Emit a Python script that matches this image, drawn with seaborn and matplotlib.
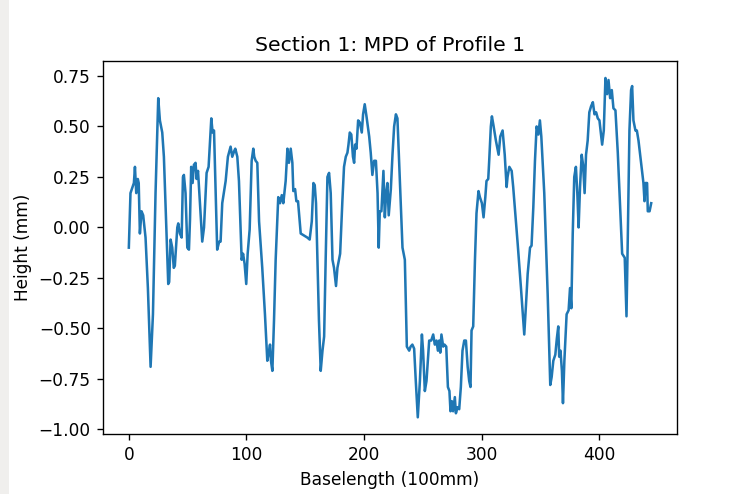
import matplotlib
matplotlib.use("Agg")
import matplotlib.pyplot as plt
from matplotlib.patches import Rectangle
import seaborn as sns
import pandas as pd

# ---- data ----
baselength = [
    0, 1.4, 4.3, 5.2, 6.3, 7.6, 8.4, 9.4, 10.8, 12.2, 14.2, 16.2, 18.5, 20.5, 22.7, 25.0,
    26.4, 28.4, 29.8, 33.5, 34.3, 35.5, 36.9, 38.2, 39.1, 41.2, 42.0, 43.4, 44.9, 46.0,
    46.8, 48.2, 49.7, 51.1, 52.0, 53.0, 54.2, 55.3, 56.7, 57.6, 58.8, 60.9, 62.4, 63.9,
    66.1, 67.8, 70.1, 71.2, 72.4, 75.1, 76.8, 78.0, 79.4, 82.3, 84.2, 86.5, 87.9, 89.7,
    90.5, 92.2, 93.6, 95.9, 97.1, 98.4, 99.8, 101.0, 102.7, 104.4, 105.8, 106.6, 107.8,
    109.2, 110.7, 113.4, 115.7, 117.7, 119.2, 120.0, 120.8, 122.0, 123.4, 124.8, 127.0,
    128.5, 130.0, 131.3, 133.3, 134.8, 136.1, 137.6, 139.0, 139.8, 141.3, 142.4, 143.8,
    146.1, 148.9, 151.7, 153.7, 155.5, 156.9, 158.0, 159.1, 160.3, 161.6, 163.1, 164.6,
    166.0, 167.3, 168.8, 170.2, 171.6, 173.1, 174.4, 176.1, 177.3, 179.6, 181.5, 182.9,
    184.4, 185.8, 186.7, 187.8, 189.1, 190.5, 191.5, 192.3, 193.5, 194.9, 196.3, 198.0,
    199.1, 200.5, 202.0, 204.3, 205.6, 207.0, 208.5, 210.0, 211.4, 212.4, 213.3, 214.7,
    216.4, 217.6, 218.7, 219.8, 220.9, 222.7, 224.1, 225.5, 227.0, 228.3, 229.7, 232.6,
    234.6, 236.3, 238.3, 239.5, 241.0, 242.5, 243.9, 245.6, 247.4, 249.1, 250.1, 251.6,
    253.0, 255.3, 257.0, 258.7, 260.1, 261.5, 262.7, 263.8, 264.7, 265.7, 267.2, 268.3,
    269.8, 271.2, 272.5, 273.4, 274.5, 275.6, 277.1, 278.0, 279.4, 280.8, 282.2, 283.6,
    285.1, 286.5, 288.0, 289.3, 290.4, 291.3, 292.7, 294.2, 295.5, 297.2, 298.4, 300.1,
    301.5, 303.0, 304.0, 305.5, 306.3, 307.7, 308.6, 309.8, 312.0, 314.3, 315.7, 317.7,
    319.5, 321.1, 321.9, 323.4, 325.4, 326.7, 330.5, 333.3, 336.1, 337.6, 339.0, 341.0,
    342.3, 343.8, 345.2, 346.6, 348.1, 349.4, 350.6, 353.1, 356.0, 358.2, 359.4, 360.8,
    362.5, 363.8, 365.0, 365.8, 366.9, 368.1, 369.0, 370.2, 372.1, 373.8, 375.0, 376.1,
    377.3, 378.6, 380.0, 381.2, 382.3, 383.5, 384.9, 386.1, 387.4, 388.6, 390.0, 391.4,
    392.9, 394.4, 395.8, 397.2, 398.6, 400.0, 402.3, 403.7, 405.1, 406.5, 407.7, 409.1,
    410.5, 411.9, 413.6, 415.6, 417.8, 419.3, 420.4, 421.5, 423.0, 424.1, 425.5, 426.9,
    427.8, 428.9, 430.6, 431.8, 433.2, 435.4, 437.4, 438.3, 439.1, 440.5, 441.1, 442.6,
    444.0,
]
height = [
    -0.10, 0.17, 0.22, 0.30, 0.17, 0.24, 0.22, -0.03, 0.08, 0.06, -0.05, -0.30, -0.69, -0.43, 0.17, 0.64,
    0.53, 0.47, 0.35, -0.28, -0.27, -0.06, -0.10, -0.20, -0.19, 0.00, 0.02, -0.03, -0.05, 0.25,
    0.26, 0.17, -0.10, -0.11, 0.04, 0.30, 0.22, 0.31, 0.32, 0.24, 0.28, 0.08, -0.07, 0.00,
    0.27, 0.30, 0.54, 0.47, 0.48, -0.11, -0.07, -0.07, 0.12, 0.23, 0.35, 0.40, 0.35, 0.38,
    0.39, 0.35, 0.23, -0.16, -0.13, -0.18, -0.28, -0.13, -0.01, 0.33, 0.39, 0.35, 0.33,
    0.32, 0.03, -0.20, -0.43, -0.66, -0.61, -0.58, -0.66, -0.71, -0.46, -0.16, 0.15,
    0.12, 0.16, 0.12, 0.23, 0.39, 0.32, 0.39, 0.32, 0.18, 0.19, 0.13, 0.13,
    -0.03, -0.04, -0.05, -0.06, 0.03, 0.22, 0.21, 0.12, -0.16, -0.46, -0.71, -0.61,
    -0.54, -0.16, 0.25, 0.27, 0.17, -0.16, -0.20, -0.29, -0.20, -0.13, 0.13, 0.30,
    0.35, 0.37, 0.41, 0.47, 0.46, 0.35, 0.32, 0.41, 0.39, 0.53, 0.52, 0.47,
    0.56, 0.61, 0.55, 0.45, 0.37, 0.26, 0.33, 0.33, 0.17, -0.10, 0.08, 0.08,
    0.28, 0.05, 0.17, 0.22, 0.06, 0.19, 0.36, 0.50, 0.56, 0.54, 0.33, -0.10,
    -0.16, -0.59, -0.61, -0.59, -0.58, -0.60, -0.76, -0.94, -0.76, -0.53, -0.61, -0.81,
    -0.76, -0.56, -0.56, -0.53, -0.58, -0.56, -0.61, -0.56, -0.62, -0.53, -0.59, -0.58,
    -0.59, -0.79, -0.81, -0.91, -0.86, -0.91, -0.84, -0.92, -0.89, -0.90, -0.79, -0.61,
    -0.56, -0.56, -0.69, -0.76, -0.79, -0.51, -0.49, -0.16, 0.07, 0.18, 0.15, 0.12,
    0.05, 0.15, 0.23, 0.24, 0.33, 0.50, 0.55, 0.51, 0.43, 0.36, 0.45, 0.48,
    0.36, 0.20, 0.25, 0.30, 0.28, 0.20, -0.08, -0.30, -0.53, -0.38, -0.23, -0.10,
    -0.09, 0.10, 0.33, 0.50, 0.46, 0.53, 0.45, 0.17, -0.33, -0.78, -0.74, -0.66,
    -0.63, -0.55, -0.49, -0.64, -0.61, -0.71, -0.87, -0.66, -0.43, -0.41, -0.30, -0.40,
    -0.03, 0.25, 0.30, 0.17, 0.00, 0.20, 0.36, 0.31, 0.17, 0.36, 0.43, 0.57,
    0.60, 0.62, 0.56, 0.57, 0.54, 0.53, 0.41, 0.48, 0.74, 0.66, 0.73, 0.64,
    0.68, 0.59, 0.58, 0.37, 0.08, -0.13, -0.14, -0.15, -0.44, -0.05, 0.48, 0.68,
    0.70, 0.53, 0.48, 0.48, 0.43, 0.32, 0.22, 0.13, 0.22, 0.22, 0.08, 0.08,
    0.12,
]
title = "Section 1: MPD of Profile 1"
x_label = "Baselength (100mm)"
y_label = "Height (mm)"

df = pd.DataFrame({"Baselength": baselength, "Height": height})

DPI = 122
fig = plt.figure(figsize=(740 / DPI, 494 / DPI), dpi=DPI)
fig.patch.set_facecolor("white")
fig.patches.append(Rectangle((0, 0), 9 / 740, 1, transform=fig.transFigure,
                             facecolor="#f0efed", edgecolor="none", zorder=-1))
ax = fig.add_axes([0.1388, 0.1209, 0.7765, 0.7556])

sns.lineplot(data=df, x="Baselength", y="Height", ax=ax, color="#1f77b4",
             linewidth=1.5, sort=False)

ax.set_title(title)
ax.set_xlabel(x_label)
ax.set_ylabel(y_label)
ax.set_xticks([0, 100, 200, 300, 400])
ax.set_yticks([0.75, 0.5, 0.25, 0.0, -0.25, -0.5, -0.75, -1.0])

fig.savefig("out.png", dpi=DPI)
